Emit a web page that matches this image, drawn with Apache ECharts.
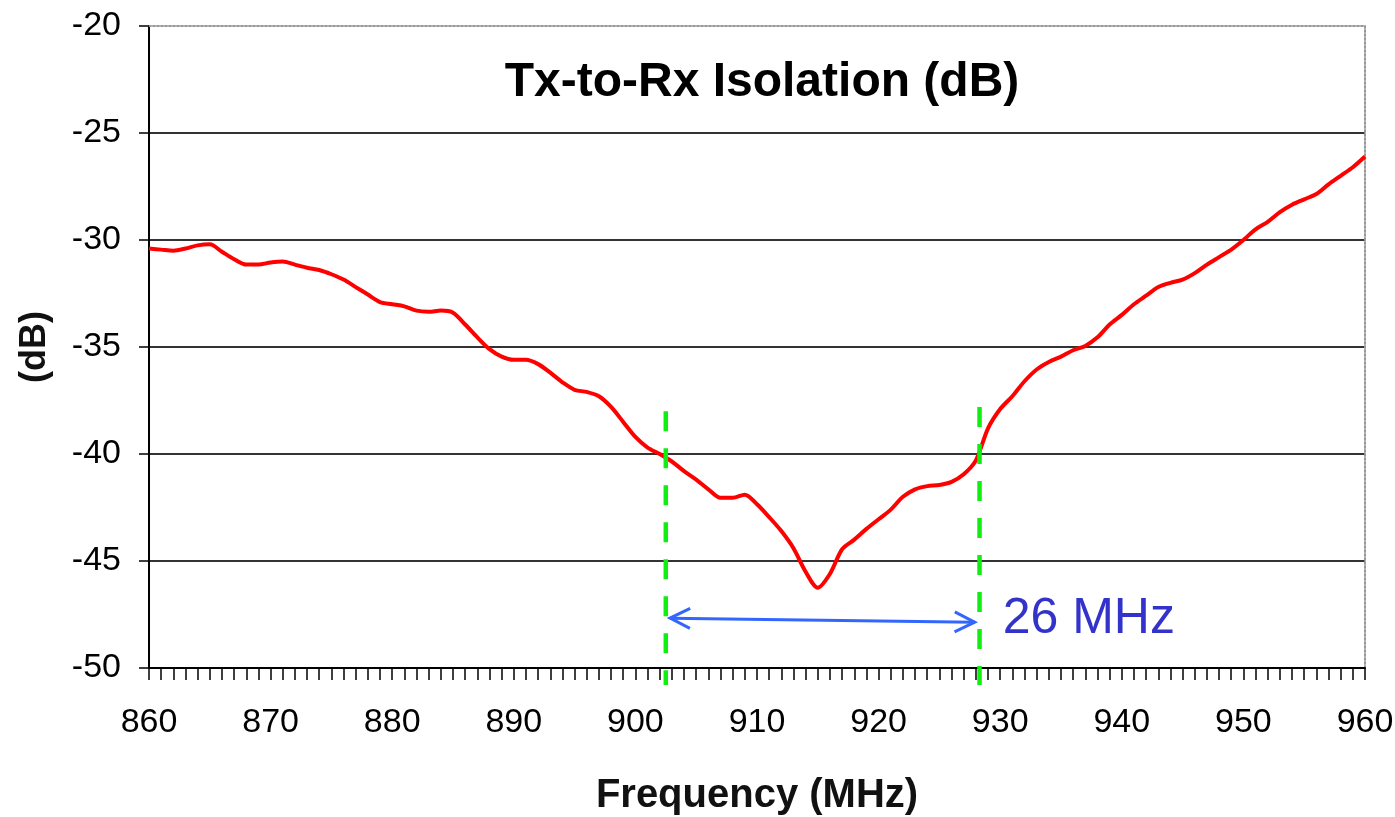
<!DOCTYPE html>
<html>
<head>
<meta charset="utf-8">
<script src="https://cdn.jsdelivr.net/npm/echarts@6/dist/echarts.min.js"></script>
<style>html,body{margin:0;padding:0;background:#fff;}#c{width:1395px;height:817px;}</style>
</head>
<body>
<div id="c"></div>
<script>
var freqMHz = [860,861,862,863,864,865,866,867,868,869,870,871,872,873,874,875,876,877,878,879,
880,881,882,883,884,885,886,887,888,889,890,891,892,893,894,895,896,897,898,899,
900,901,902,903,904,905,906,907,908,909,910,911,912,913,914,915,916,917,918,919,
920,921,922,923,924,925,926,927,928,929,930,931,932,933,934,935,936,937,938,939,
940,941,942,943,944,945,946,947,948,949,950,951,952,953,954,955,956,957,958,959,960];
var isolationDb = [-30.4,-30.45,-30.5,-30.4,-30.25,-30.2,-30.55,-30.9,-31.15,-31.15,
-31.05,-31.0,-31.15,-31.3,-31.4,-31.6,-31.85,-32.2,-32.55,-32.9,
-33.0,-33.1,-33.3,-33.35,-33.3,-33.4,-33.95,-34.55,-35.1,-35.45,
-35.6,-35.6,-35.8,-36.2,-36.65,-37.0,-37.1,-37.3,-37.8,-38.5,
-39.2,-39.7,-40.0,-40.35,-40.8,-41.2,-41.65,-42.05,-42.05,-41.9,
-42.35,-42.95,-43.6,-44.4,-45.5,-46.25,-45.6,-44.45,-44.0,-43.5,
-43.05,-42.6,-42.0,-41.65,-41.5,-41.45,-41.3,-40.95,-40.3,-38.8,
-37.9,-37.3,-36.6,-36.05,-35.7,-35.45,-35.15,-34.95,-34.55,-33.95,
-33.5,-33.0,-32.6,-32.2,-32.0,-31.85,-31.55,-31.15,-30.8,-30.45,
-30.0,-29.5,-29.15,-28.7,-28.35,-28.1,-27.85,-27.4,-27.0,-26.6,-26.1];
var xTicks = {min: 860, max: 960, step: 10};
var yTicks = {min: -50, max: -20, step: 5};
var bandEdgesMHz = [902.5, 928.3];
var bandTopsDb = [-38.0, -37.8];
var bandBottomDb = -50.8;
var arrowFrom = [902.85, -47.67];
var arrowTo = [927.9, -47.86];
var bandLabel = '26 MHz';
var bandLabelAt = [930.2, -47.72];

var FONT = '"Liberation Sans", Arial, sans-serif';
var chart = echarts.init(document.getElementById('c'));

var curve = freqMHz.map(function (f, i) { return [f, isolationDb[i]]; });
var bandSeries = bandEdgesMHz.map(function (f, i) {
  return {
    type: 'line', xAxisIndex: 0, yAxisIndex: 0, clip: false, silent: true,
    symbol: 'none', z: 4, animation: false,
    data: [[f, bandTopsDb[i]], [f, bandBottomDb]],
    lineStyle: {color: '#11ee11', width: 4.5, type: [20, 17]}
  };
});

var option = {
  backgroundColor: '#fff',
  animation: false,
  title: {
    text: 'Tx-to-Rx Isolation (dB)',
    left: 757, top: 54, textAlign: 'center',
    textStyle: {fontFamily: FONT, fontWeight: 'bold', fontSize: 48, color: '#000'}
  },
  grid: {left: 149, right: 30, top: 26, bottom: 149, containLabel: false, outerBoundsMode: 'none'},
  xAxis: [{
    type: 'value', min: xTicks.min, max: xTicks.max, interval: xTicks.step,
    name: 'Frequency (MHz)', nameLocation: 'middle', nameGap: 108,
    nameTextStyle: {fontFamily: FONT, fontWeight: 'bold', fontSize: 40, color: '#111'},
    axisLine: {show: true, onZero: false, lineStyle: {color: '#000', width: 2}},
    axisTick: {show: true, length: 12, lineStyle: {color: '#000', width: 1.5}},
    minorTick: {show: true, splitNumber: 10, length: 12, lineStyle: {color: '#000', width: 1.5}},
    axisLabel: {fontFamily: FONT, fontSize: 34, color: '#000', margin: 38},
    splitLine: {show: false}
  }, {
    type: 'value', position: 'top', min: xTicks.min, max: xTicks.max,
    axisLine: {show: true, lineStyle: {color: '#999', width: 2, type: 'dotted'}},
    axisTick: {show: false}, axisLabel: {show: false}, splitLine: {show: false}
  }],
  yAxis: [{
    type: 'value', min: yTicks.min, max: yTicks.max, interval: yTicks.step,
    name: '(dB)', nameLocation: 'middle', nameGap: 96, nameRotate: 90,
    nameTextStyle: {fontFamily: FONT, fontWeight: 'bold', fontSize: 36, color: '#111'},
    axisLine: {show: true, onZero: false, lineStyle: {color: '#000', width: 2}},
    axisTick: {show: true, length: 10, lineStyle: {color: '#000', width: 1.5}},
    axisLabel: {fontFamily: FONT, fontSize: 34, color: '#000', margin: 28},
    splitLine: {show: true, lineStyle: {color: ['#333','#333','#333','#333','#333','#333','rgba(0,0,0,0)'], width: 2}}
  }, {
    type: 'value', position: 'right', min: yTicks.min, max: yTicks.max,
    axisLine: {show: true, lineStyle: {color: '#999', width: 2, type: 'dotted'}},
    axisTick: {show: false}, axisLabel: {show: false}, splitLine: {show: false}
  }],
  series: [{
    type: 'line', xAxisIndex: 0, yAxisIndex: 0, data: curve,
    symbol: 'none', smooth: 0.3, z: 3,
    lineStyle: {color: '#f00', width: 4}
  }].concat(bandSeries).concat([{
    type: 'custom', xAxisIndex: 0, yAxisIndex: 0, z: 5, silent: true,
    data: [[arrowFrom[0], arrowFrom[1], arrowTo[0], arrowTo[1]]],
    renderItem: function (params, api) {
      var a = api.coord(arrowFrom), b = api.coord(arrowTo), t = api.coord(bandLabelAt);
      var dx = b[0] - a[0], dy = b[1] - a[1], L = Math.sqrt(dx*dx + dy*dy);
      var ux = dx / L, uy = dy / L, px = -uy, py = ux, h = 20, w = 10;
      var style = {stroke: '#3366ff', lineWidth: 3, fill: null};
      return {type: 'group', children: [
        {type: 'line', shape: {x1: a[0], y1: a[1], x2: b[0], y2: b[1]}, style: style},
        {type: 'polyline', shape: {points: [[a[0]+ux*h+px*w, a[1]+uy*h+py*w], a, [a[0]+ux*h-px*w, a[1]+uy*h-py*w]]}, style: style},
        {type: 'polyline', shape: {points: [[b[0]-ux*h+px*w, b[1]-uy*h+py*w], b, [b[0]-ux*h-px*w, b[1]-uy*h-py*w]]}, style: style},
        {type: 'text', x: t[0], y: t[1], style: {text: bandLabel, fill: '#3333cc', font: '50px ' + FONT, textAlign: 'left', textVerticalAlign: 'middle'}}
      ]};
    }
  }])
};
chart.setOption(option);
</script>
</body>
</html>
